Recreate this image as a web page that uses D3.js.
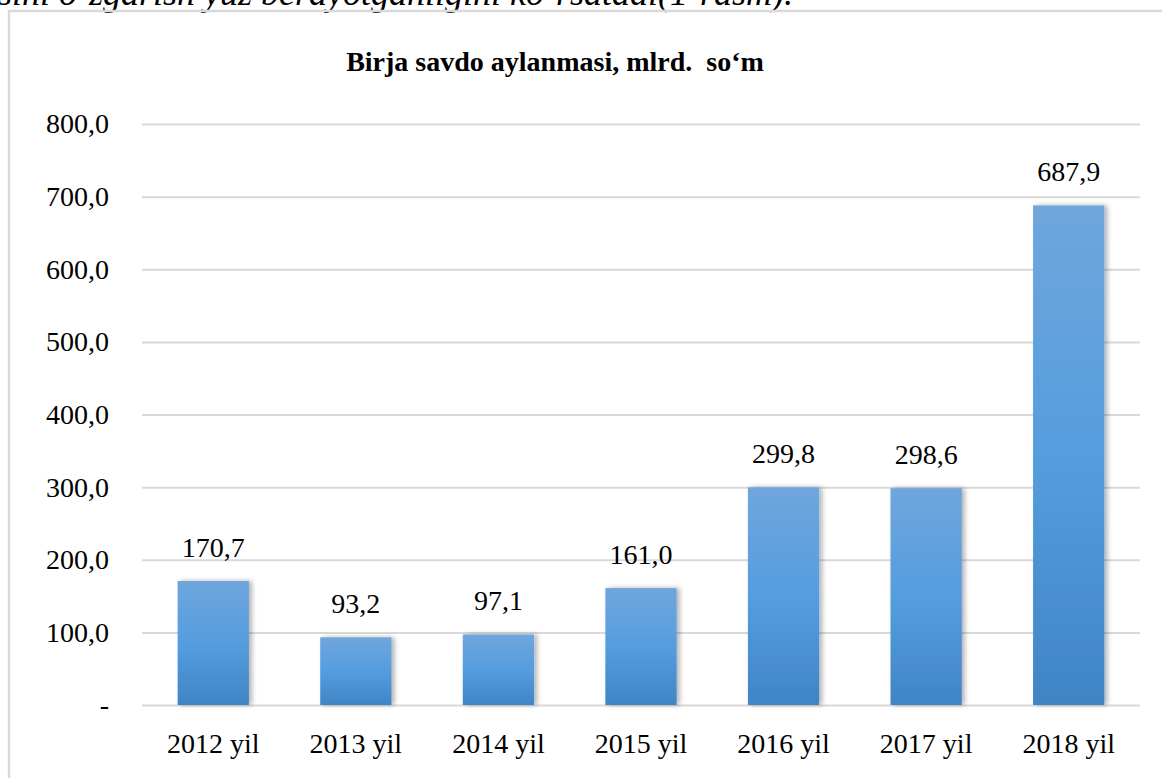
<!DOCTYPE html>
<html><head><meta charset="utf-8">
<script src="https://cdn.jsdelivr.net/npm/d3@7"></script>
<style>body{margin:0;background:#fff;overflow:hidden}svg{display:block}</style>
</head><body>
<svg id="c" width="1162" height="778"></svg>
<script>
const categories = ["2012 yil","2013 yil","2014 yil","2015 yil","2016 yil","2017 yil","2018 yil"];
const values = [170.7, 93.2, 97.1, 161.0, 299.8, 298.6, 687.9];
const labels = ["170,7","93,2","97,1","161,0","299,8","298,6","687,9"];
const yTicks = [0,100,200,300,400,500,600,700,800];
const yTickLabels = ["-","100,0","200,0","300,0","400,0","500,0","600,0","700,0","800,0"];
const title = "Birja savdo aylanmasi, mlrd.  so‘m";
const topText = "sini o‘zgarish yuz berayotganligini ko‘rsatadi(1-rasm).";

const svg = d3.select("#c");
const font = "'Liberation Serif','Times New Roman',serif";

// partially visible text from surrounding document (cut at the top edge, as in the source)
svg.append("text").attr("x", -2).attr("y", 5).attr("font-family", font)
  .attr("font-style","italic").attr("font-size", 36).attr("fill","#000").text(topText);

// chart border
svg.append("rect").attr("x", 9).attr("y", 11).attr("width", 1200).attr("height", 800)
  .attr("fill","none").attr("stroke","#d9d9d9").attr("stroke-width", 2.5);

const x = d3.scaleBand().domain(categories).range([142, 1140]).paddingInner(0.5).paddingOuter(0.25);
const y = d3.scaleLinear().domain([0, 800]).range([705, 124]);

const defs = svg.append("defs");
const g = defs.append("linearGradient").attr("id","bg").attr("x1",0).attr("y1",0).attr("x2",0).attr("y2",1);
g.append("stop").attr("offset","0%").attr("stop-color","#6fa6dc");
g.append("stop").attr("offset","50%").attr("stop-color","#559ddf");
g.append("stop").attr("offset","100%").attr("stop-color","#3f85c6");
const f = defs.append("filter").attr("id","sh").attr("x","-20%").attr("y","-20%").attr("width","150%").attr("height","140%");
f.append("feDropShadow").attr("dx",3).attr("dy",0).attr("stdDeviation",2.5).attr("flood-color","#000").attr("flood-opacity",0.3);

// grid
const yAxis = d3.axisLeft(y).tickValues(yTicks).tickSize(-(1140-142))
  .tickFormat((d,i)=>yTickLabels[i]).tickPadding(33);
const ga = svg.append("g").attr("transform","translate(142,0)").call(yAxis);
ga.select(".domain").remove();
ga.selectAll(".tick line").attr("stroke","#d9d9d9").attr("stroke-width",2);
ga.selectAll(".tick text").attr("font-family",font).attr("font-size",28).attr("fill","#000");

// bars
svg.append("g").selectAll("rect").data(values).join("rect")
  .attr("x",(d,i)=>x(categories[i])).attr("width",x.bandwidth())
  .attr("y",d=>y(d)).attr("height",d=>y(0)-y(d))
  .attr("fill","url(#bg)").attr("filter","url(#sh)");

// value labels
svg.append("g").selectAll("text").data(values).join("text")
  .attr("x",(d,i)=>x(categories[i])+x.bandwidth()/2).attr("y",d=>y(d)-24)
  .attr("text-anchor","middle").attr("font-family",font).attr("font-size",28).attr("fill","#000")
  .text((d,i)=>labels[i]);

// x axis
const xAxis = d3.axisBottom(x).tickSize(0).tickPadding(28);
const gx = svg.append("g").attr("transform","translate(0,705)").call(xAxis);
gx.select(".domain").remove();
gx.selectAll(".tick text").attr("font-family",font).attr("font-size",28).attr("fill","#000");

// title
svg.append("text").attr("x",555).attr("y",71).attr("text-anchor","middle")
  .attr("font-family",font).attr("font-weight","bold").attr("font-size",28).attr("fill","#000")
  .attr("xml:space","preserve").style("white-space","pre").text(title);
</script>
</body></html>
